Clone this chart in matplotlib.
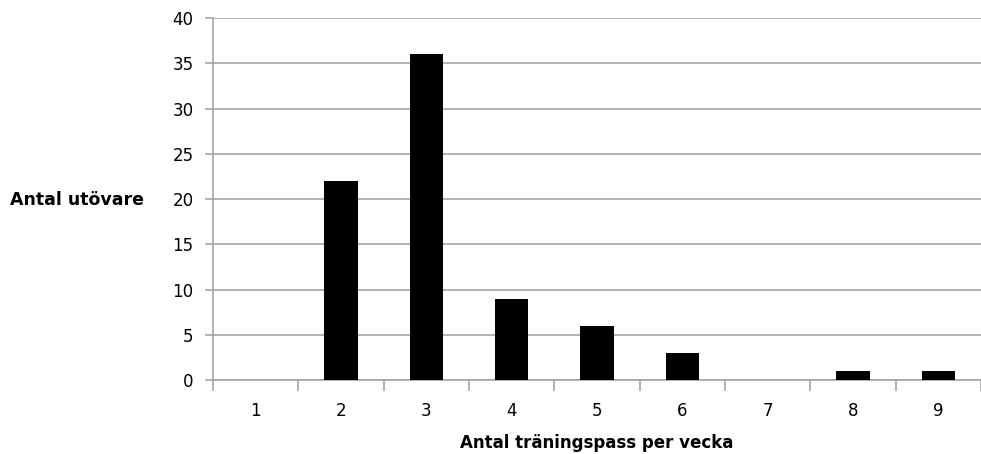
import numpy as np
from matplotlib import pyplot as plt
from matplotlib.ticker import FixedLocator, MultipleLocator

# sessions per week and number of athletes
sessions = ["1", "2", "3", "4", "5", "6", "7", "8", "9"]
athletes = [0, 22, 36, 9, 6, 3, 0, 1, 1]

GRID = "#a6a6a6"

fig = plt.figure(figsize=(9.81, 4.54), dpi=100)
ax = fig.add_axes([0.2171, 0.163, 0.7829, 0.797])

x = np.arange(len(sessions))
ax.bar(x, athletes, width=0.39, color="black", zorder=3)

ax.set_xlim(-0.5, len(sessions) - 0.5)
ax.set_ylim(0, 40)
ax.yaxis.set_major_locator(MultipleLocator(5))
ax.grid(axis="y", color=GRID, linewidth=1.2, zorder=0)

# category boundaries get the tick marks, labels sit in the middle
ax.xaxis.set_major_locator(FixedLocator(np.arange(len(sessions) + 1) - 0.5))
ax.xaxis.set_minor_locator(FixedLocator(x))
ax.set_xticklabels([])
ax.set_xticklabels(sessions, minor=True)
ax.tick_params(axis="x", which="major", length=8, width=1.2, color=GRID, direction="out")
ax.tick_params(axis="x", which="minor", length=0, pad=16, labelsize=12)
ax.tick_params(axis="y", length=6, width=1.2, color=GRID, labelsize=12, pad=8)

for side in ("top", "right"):
    ax.spines[side].set_visible(False)
for side in ("left", "bottom"):
    ax.spines[side].set_color(GRID)
    ax.spines[side].set_linewidth(1.2)

ax.set_xlabel("Antal träningspass per vecka", fontsize=12, fontweight="bold", labelpad=10)
fig.text(0.01, 1 - 200 / 454, "Antal utövare", fontsize=12.5, fontweight="bold", va="center", ha="left")

plt.savefig("out.png", dpi=100)
